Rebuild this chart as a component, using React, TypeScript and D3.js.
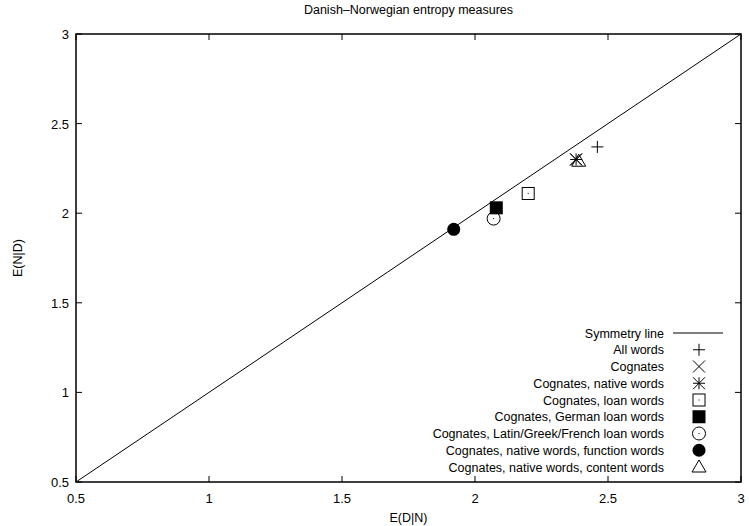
import React from "react";
import * as d3 from "d3";

const title = "Danish\u2013Norwegian entropy measures";
const xLabel = "E(D|N)";
const yLabel = "E(N|D)";
const xTicks = [0.5, 1, 1.5, 2, 2.5, 3];
const yTicks = [0.5, 1, 1.5, 2, 2.5, 3];
const seriesNames = [
  "All words",
  "Cognates",
  "Cognates, native words",
  "Cognates, loan words",
  "Cognates, German loan words",
  "Cognates, Latin/Greek/French loan words",
  "Cognates, native words, function words",
  "Cognates, native words, content words",
];
const seriesSymbols = ["plus", "cross", "star", "boxdot", "boxfill", "circledot", "circlefill", "triangle"];
const xValues = [2.46, 2.38, 2.38, 2.2, 2.08, 2.07, 1.92, 2.39];
const yValues = [2.37, 2.3, 2.3, 2.11, 2.03, 1.97, 1.91, 2.29];
const symmetryLine = [0.5, 3];

const W = 749, H = 526;
const M = { left: 76, right: 741, top: 34, bottom: 482 };
const FONT = "'Liberation Sans', Arial, sans-serif";

function Symbol({ type, x, y }: { type: string; x: number; y: number }) {
  const s = 6;
  const st = { stroke: "#000", strokeWidth: 1, fill: "none" };
  switch (type) {
    case "plus":
      return <path d={`M${x - s},${y}H${x + s}M${x},${y - s}V${y + s}`} {...st} />;
    case "cross":
      return <path d={`M${x - s},${y - s}L${x + s},${y + s}M${x - s},${y + s}L${x + s},${y - s}`} {...st} />;
    case "star":
      return (
        <path
          d={`M${x - s},${y}H${x + s}M${x},${y - s}V${y + s}M${x - s},${y - s}L${x + s},${y + s}M${x - s},${y + s}L${x + s},${y - s}`}
          {...st}
        />
      );
    case "boxdot":
      return (
        <g>
          <rect x={x - 6} y={y - 6} width={12} height={12} {...st} />
          <rect x={x - 0.5} y={y - 0.5} width={1} height={1} fill="#000" />
        </g>
      );
    case "boxfill":
      return <rect x={x - 6.5} y={y - 6.5} width={13} height={13} fill="#000" />;
    case "circledot":
      return (
        <g>
          <circle cx={x} cy={y} r={6.5} {...st} />
          <rect x={x - 0.5} y={y - 0.5} width={1} height={1} fill="#000" />
        </g>
      );
    case "circlefill":
      return <circle cx={x} cy={y} r={6.5} fill="#000" />;
    case "triangle":
      return <path d={`M${x},${y - 7}L${x + 7},${y + 5}L${x - 7},${y + 5}Z`} {...st} />;
  }
  return null;
}

export default function App() {
  const x = d3.scaleLinear().domain([0.5, 3]).range([M.left, M.right]);
  const y = d3.scaleLinear().domain([0.5, 3]).range([M.bottom, M.top]);
  const line = d3.line<number>().x((d) => x(d)).y((d) => y(d));
  const legendTextX = 664;
  const legendSymX = 699;
  const legendY0 = 333;
  const legendDy = 16.75;
  return (
    <svg width={W} height={H} style={{ position: "absolute", left: 0, top: 0, background: "#fff" }} fontFamily={FONT}>
      <rect x={0} y={0} width={W} height={H} fill="#fff" />
      <text x={(M.left + M.right) / 2} y={14} textAnchor="middle" fontSize={12.5}>
        {title}
      </text>
      {xTicks.map((t) => (
        <g key={"x" + t}>
          <line x1={x(t)} x2={x(t)} y1={M.bottom} y2={M.bottom - 6} stroke="#000" />
          <line x1={x(t)} x2={x(t)} y1={M.top} y2={M.top + 6} stroke="#000" />
          <text x={x(t)} y={503} textAnchor="middle" fontSize={13}>
            {t}
          </text>
        </g>
      ))}
      {yTicks.map((t) => (
        <g key={"y" + t}>
          <line x1={M.left} x2={M.left + 6} y1={y(t)} y2={y(t)} stroke="#000" />
          <line x1={M.right} x2={M.right - 6} y1={y(t)} y2={y(t)} stroke="#000" />
          <text x={M.left - 7} y={y(t) + 5} textAnchor="end" fontSize={13}>
            {t}
          </text>
        </g>
      ))}
      <text x={(M.left + M.right) / 2} y={522} textAnchor="middle" fontSize={12.5}>
        {xLabel}
      </text>
      <text
        transform={`translate(22,${(M.top + M.bottom) / 2}) rotate(-90)`}
        textAnchor="middle"
        fontSize={12.5}
      >
        {yLabel}
      </text>
      <path d={line(symmetryLine) || ""} stroke="#000" fill="none" strokeWidth={1} />
      {seriesNames.map((n, i) => (
        <Symbol key={n} type={seriesSymbols[i]} x={x(xValues[i])} y={y(yValues[i])} />
      ))}
      <rect x={M.left} y={M.top} width={M.right - M.left} height={M.bottom - M.top} fill="none" stroke="#000" strokeWidth={1.5} />
      <g fontSize={12.5}>
        <text x={legendTextX} y={legendY0 + 4.5} textAnchor="end">
          Symmetry line
        </text>
        <line x1={673} x2={723} y1={legendY0} y2={legendY0} stroke="#000" />
        {seriesNames.map((n, i) => (
          <g key={"l" + n}>
            <text x={legendTextX} y={legendY0 + legendDy * (i + 1) + 4.5} textAnchor="end">
              {n}
            </text>
            <Symbol type={seriesSymbols[i]} x={legendSymX} y={legendY0 + legendDy * (i + 1)} />
          </g>
        ))}
      </g>
    </svg>
  );
}
